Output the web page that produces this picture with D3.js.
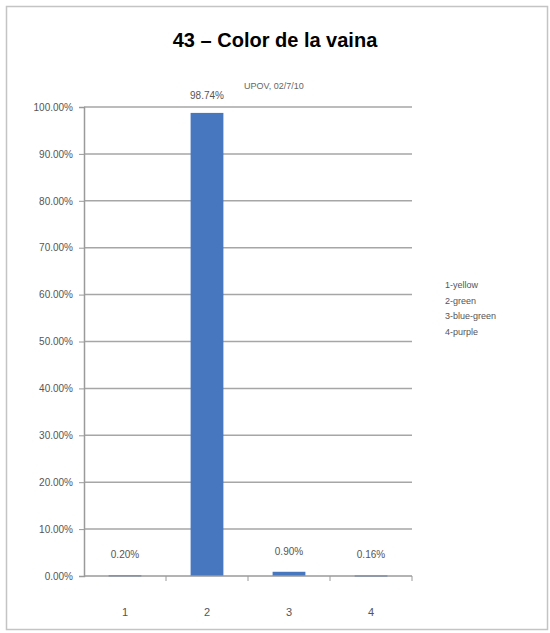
<!DOCTYPE html>
<html><head><meta charset="utf-8">
<script src="https://cdn.jsdelivr.net/npm/d3@7"></script>
<style>body{margin:0;background:#fff;} svg{display:block;}</style>
</head><body>
<svg id="c" width="550" height="633"></svg>
<script>
const categories = ["1","2","3","4"];
const values = [0.20, 98.74, 0.90, 0.16];
const valueLabels = ["0.20%","98.74%","0.90%","0.16%"];
const yTicks = [0,10,20,30,40,50,60,70,80,90,100];
const legendItems = ["1-yellow","2-green","3-blue-green","4-purple"];
const title = "43 – Color de la vaina";
const note = "UPOV, 02/7/10";

const svg = d3.select("#c");
svg.append("rect").attr("x",6.5).attr("y",6.5).attr("width",541).attr("height",623)
  .attr("fill","#fff").attr("stroke","#c4c4c4").attr("stroke-width",1.5);

const m = {l:84, r:412, t:107, b:576};
const x = d3.scaleBand().domain(categories).range([m.l, m.r]).paddingInner(0.6).paddingOuter(0.3);
const y = d3.scaleLinear().domain([0,100]).range([m.b, m.t]);

// gridlines
svg.append("g").selectAll("line").data(yTicks.filter(d=>d>0)).join("line")
  .attr("x1",m.l).attr("x2",m.r).attr("y1",d=>y(d)).attr("y2",d=>y(d))
  .attr("stroke","#a6a6a6").attr("stroke-width",1.5);

// y axis
const yAxis = d3.axisLeft(y).tickValues(yTicks).tickSize(5).tickPadding(6)
  .tickFormat(d=>d3.format(".2f")(d)+"%");
const gy = svg.append("g").attr("transform",`translate(${m.l},0)`).call(yAxis);
gy.select(".domain").attr("stroke","#9a9a9a").attr("stroke-width",1.5);
gy.selectAll(".tick line").attr("stroke","#9a9a9a");
gy.selectAll("text").attr("font-family","Liberation Sans, Arial, sans-serif").attr("font-size",10).attr("fill","#555");

// bars
svg.append("g").selectAll("rect").data(values).join("rect")
  .attr("x",(d,i)=>x(categories[i])).attr("width",x.bandwidth())
  .attr("y",d=>y(d)).attr("height",d=>Math.max(y(0)-y(d),1.5))
  .attr("fill","#4677bf");

// x axis
const xb = d3.scaleLinear().domain([0,4]).range([m.l,m.r]);
svg.append("line").attr("x1",m.l).attr("x2",m.r).attr("y1",m.b).attr("y2",m.b)
  .attr("stroke","#9a9a9a").attr("stroke-width",1.5);
svg.append("g").selectAll("line").data([1,2,3,4]).join("line")
  .attr("x1",d=>xb(d)).attr("x2",d=>xb(d)).attr("y1",m.b).attr("y2",m.b+5)
  .attr("stroke","#9a9a9a");
svg.append("g").selectAll("text").data(categories).join("text")
  .attr("x",d=>x(d)+x.bandwidth()/2).attr("y",616).attr("text-anchor","middle")
  .attr("font-family","Liberation Sans, Arial, sans-serif").attr("font-size",11).attr("fill","#555")
  .text(d=>d);

// value labels
svg.append("g").selectAll("text").data(values).join("text")
  .attr("x",(d,i)=>x(categories[i])+x.bandwidth()/2)
  .attr("y",(d,i)=> i===1 ? y(d)-14 : y(d)-17)
  .attr("text-anchor","middle")
  .attr("font-family","Liberation Sans, Arial, sans-serif").attr("font-size",10).attr("fill","#555")
  .text((d,i)=>valueLabels[i]);

// note
svg.append("text").attr("x",244).attr("y",89).attr("font-family","Liberation Sans, Arial, sans-serif")
  .attr("font-size",9).attr("fill","#666").text(note);

// title
svg.append("text").attr("x",275).attr("y",47).attr("text-anchor","middle")
  .attr("font-family","Liberation Sans, Arial, sans-serif").attr("font-weight","bold")
  .attr("font-size",20).attr("fill","#000").text(title);

// legend
svg.append("g").selectAll("text").data(legendItems).join("text")
  .attr("x",445).attr("y",(d,i)=>288+i*15.5)
  .attr("font-family","Liberation Sans, Arial, sans-serif").attr("font-size",9).attr("fill","#555")
  .text(d=>d);
</script>
</body></html>
